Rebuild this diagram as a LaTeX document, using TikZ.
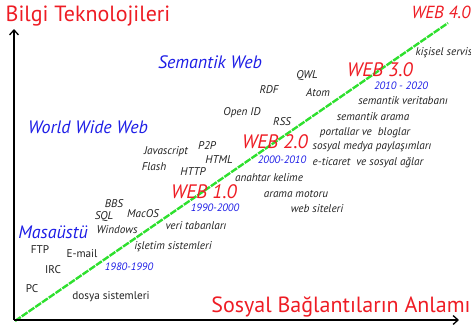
\documentclass[tikz,border=0pt]{standalone}
\usepackage{fontspec}
\setmainfont{PT Sans}
\usetikzlibrary{arrows.meta}
\definecolor{tred}{HTML}{EE1C24}
\definecolor{tblue}{HTML}{1E1EE6}
\definecolor{tgray}{HTML}{222222}
\definecolor{tgreen}{HTML}{2EE02E}
\tikzset{
  axis/.style={line width=1.8pt, -{Straight Barb[length=5pt,width=9pt,line width=1.3pt]}},
  big/.style={text=tred, font=\fontsize{22}{25}\selectfont, inner sep=0pt},
  webv/.style={text=tred, font=\fontsize{19.5}{22}\selectfont\itshape, inner sep=0pt},
  era/.style={text=tblue, font=\fontsize{18}{21}\selectfont\itshape, inner sep=0pt},
  yr/.style={text=tblue, font=\fontsize{10.7}{12}\selectfont\itshape, inner sep=0pt},
  it/.style={text=tgray, font=\fontsize{11.2}{13}\selectfont\itshape, inner sep=0pt},
  up/.style={text=tgray, font=\fontsize{11.2}{13}\selectfont, inner sep=0pt},
}
\begin{document}
\begin{tikzpicture}[x=1pt,y=-1pt]
\useasboundingbox (0,0) rectangle (471,327);
\coordinate (o) at (14,320);
\coordinate (ytop) at (14,29);
\coordinate (xend) at (459,320);
\coordinate (g0) at (15,321);
\coordinate (g1) at (448,23);
\draw[tgreen, line width=2.4pt, dash pattern=on 7pt off 1.2pt] (g0) -- (g1);
\draw[axis] (o) -- (ytop);
\draw[axis] (o) -- (xend);

\node[big] (ylab) at (88,16) {Bilgi Teknolojileri};
\node[big] (xlab) at (341,307) {Sosyal Bağlantıların Anlamı};

\node[era] (sem) at (210,62) {Semantik Web};
\node[era] (www) at (88,127) {World Wide Web};
\node[era] (mas) at (53,232) {Masaüstü};

\node[webv, font=\fontsize{17.5}{20}\selectfont\itshape] (w4) at (441,12) {WEB 4.0};
\node[webv] (w3) at (380,70) {WEB 3.0};
\node[webv] (w2) at (275,142) {WEB 2.0};
\node[webv] (w1) at (204,192) {WEB 1.0};

\node[yr] (y3) at (401,86) {2010 - 2020};
\node[yr] (y2) at (282,160) {2000-2010};
\node[yr] (y1) at (215,208) {1990-2000};
\node[yr] (y0) at (129,267) {1980-1990};

\node[it] (kis) at (444,53) {kişisel servis};
\node[it] (qwl) at (307,76) {QWL};
\node[it] (rdf) at (269,90) {RDF};
\node[it] (atom) at (318,93) {Atom};
\node[it] (svt) at (403,101) {semantik veritabanı};
\node[it] (oid) at (242,113) {Open ID};
\node[it] (rss) at (282,122) {RSS};
\node[it] (sar) at (373,117) {semantik arama};
\node[it] (pb) at (365,133) {portallar ve~ bloglar};
\node[it] (smp) at (372,147) {sosyal medya paylaşımları};
\node[it] (eti) at (368,163) {e-ticaret~ ve sosyal ağlar};
\node[it] (ak) at (269,178) {anahtar kelime};
\node[it] (am) at (296,194) {arama motoru};
\node[it] (ws) at (317,209) {web siteleri};

\node[it] (js) at (166,152) {Javascript};
\node[it] (p2p) at (207,146) {P2P};
\node[it] (html) at (219,160) {HTML};
\node[it] (fl) at (154,167) {Flash};
\node[it] (http) at (193,172) {HTTP};

\node[it] (bbs) at (114,204) {BBS};
\node[it] (sql) at (104,217) {SQL};
\node[it] (mac) at (143,214) {MacOS};
\node[it] (win) at (117,230) {Windows};
\node[it] (vt) at (196,226) {veri tabanları};
\node[it] (is) at (173,247) {işletim sistemleri};

\node[up] (ftp) at (40,250) {FTP};
\node[up] (em) at (82,254) {E-mail};
\node[up] (irc) at (53,270) {IRC};
\node[up] (pc) at (32,289) {PC};
\node[up] (ds) at (111,297) {dosya sistemleri};
\end{tikzpicture}
\end{document}
